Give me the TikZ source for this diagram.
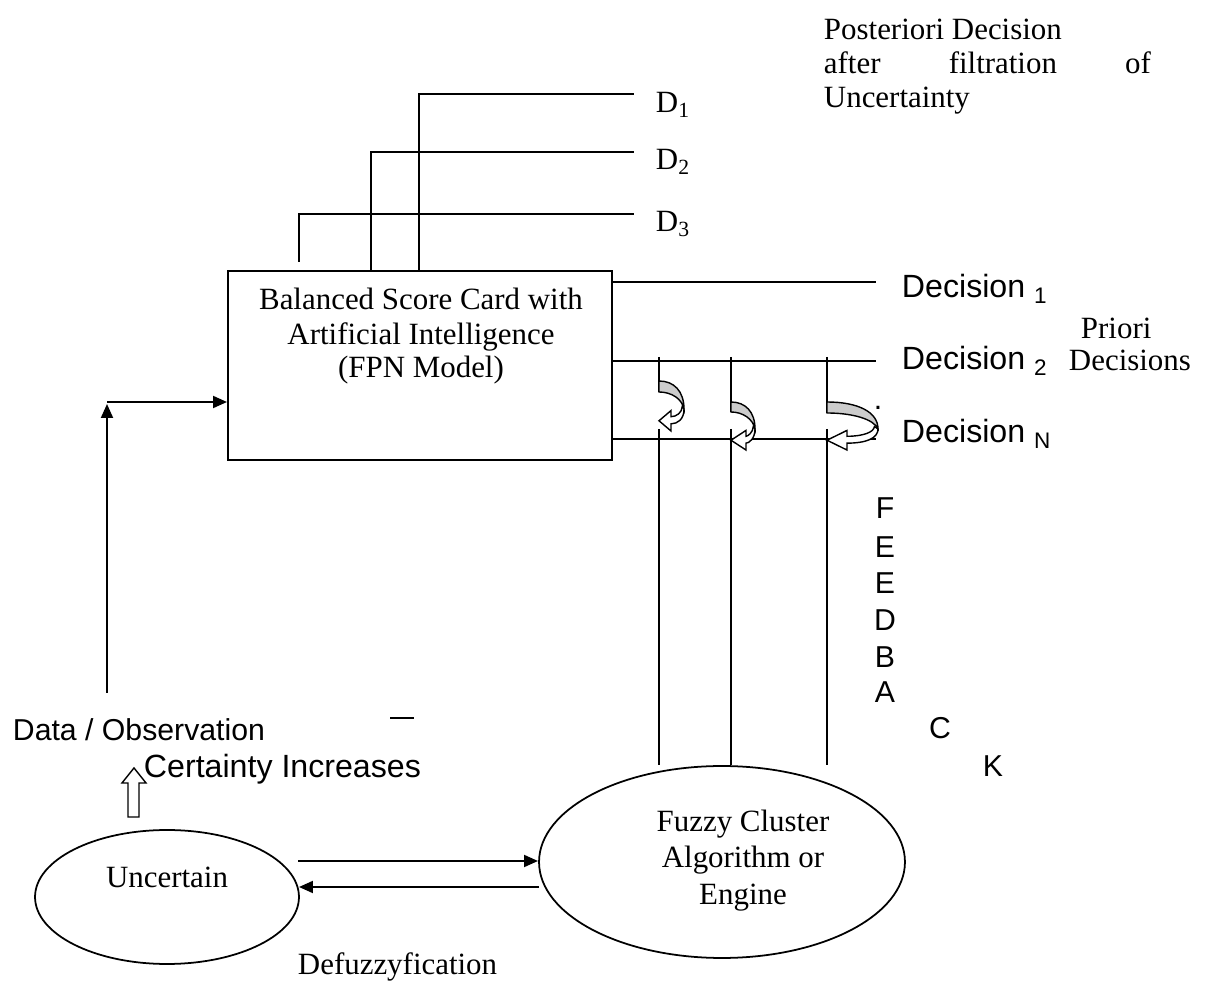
\documentclass[tikz,border=0pt]{standalone}
\usepackage{fontspec}
\setmainfont{Liberation Serif}
\setsansfont{Liberation Sans}
\usetikzlibrary{arrows.meta,shapes.geometric}
\newcommand\curvarr[6]{% x0 y0 w H t L
 \filldraw[fill=gray!40, line width=0.8pt] (#1,#2) .. controls ({#1+0.6*#3},#2) and ({#1+#3},{#2+0.2*#4}) .. ({#1+#3},{#2+0.55*#4}) .. controls ({#1+0.92*#3},{#2+0.35*#4}) and ({#1+0.5*#3},{#2+#5}) .. (#1,{#2+#5}) -- cycle;
 \filldraw[fill=white, line width=0.8pt] ({#1+#3},{#2+0.55*#4}) .. controls ({#1+#3},{#2+0.75*#4}) and ({#1+0.75*#3},{#2+0.84*#4}) .. ({#1+#6},{#2+0.84*#4}) -- ({#1+#6},{#2+0.98*#4}) -- (#1,{#2+0.78*#4}) -- ({#1+#6},{#2+0.58*#4}) -- ({#1+#6},{#2+0.7*#4}) .. controls ({#1+0.7*#3},{#2+0.7*#4}) and ({#1+0.92*#3},{#2+0.62*#4}) .. ({#1+0.93*#3},{#2+0.5*#4}) -- cycle;
}
\begin{document}
\begin{tikzpicture}[x=0.02cm,y=-0.02cm,line width=1.1pt,
  serif/.style={font=\fontsize{17.6}{19.6}\selectfont, inner sep=0pt},
  sans/.style={font=\sffamily\fontsize{17.2}{19}\selectfont, inner sep=0pt},
  bigsans/.style={font=\sffamily\fontsize{18.3}{20}\selectfont, inner sep=0pt},
  tip/.style={-{Triangle[length=0.28cm,width=0.24cm]}},
  ell/.style={draw, ellipse, inner sep=0pt, line width=1pt}]
\useasboundingbox (0,0) rectangle (1208,999);

% main box
\node[draw, minimum width=7.68cm, minimum height=3.78cm, inner sep=0pt] (bsc) at (420,365.5) {};
\node[serif, anchor=base] (t1) at (421,310) {Balanced Score Card with};
\node[serif, anchor=base] (t2) at (421,345) {Artificial Intelligence};
\node[serif, anchor=base] (t3) at (421,378) {(FPN Model)};

% posteriori decisions D1..D3
\coordinate (d1a) at (419,271); \coordinate (d1b) at (419,94); \coordinate (d1c) at (634,94);
\coordinate (d2a) at (371,271); \coordinate (d2b) at (371,152); \coordinate (d2c) at (634,152);
\coordinate (d3a) at (299,262); \coordinate (d3b) at (299,214); \coordinate (d3c) at (634,214);
\draw (d1a) -- (d1b) -- (d1c);
\draw (d2a) -- (d2b) -- (d2c);
\draw (d3a) -- (d3b) -- (d3c);
\node[serif, anchor=base west] (D1) at (655,113) {D\textsubscript{1}};
\node[serif, anchor=base west] (D2) at (655,170) {D\textsubscript{2}};
\node[serif, anchor=base west] (D3) at (655,232) {D\textsubscript{3}};

\node[serif, anchor=base west] (p1) at (823,40) {Posteriori Decision};
\node[serif, anchor=base west] (p2) at (823,74) {\makebox[6.54cm][s]{after filtration of}};
\node[serif, anchor=base west] (p3) at (823,108) {Uncertainty};

% priori decisions
\coordinate (e1a) at (612,282); \coordinate (e1b) at (876,282);
\coordinate (e2a) at (612,361); \coordinate (e2b) at (876,361);
\coordinate (e3a) at (612,439); \coordinate (e3b) at (876,439);
\draw (e1a) -- (e1b);
\draw (e2a) -- (e2b);
\draw (e3a) -- (e3b);
\node[bigsans, anchor=base west] (dec1) at (901,298) {Decision \textsubscript{1}};
\node[bigsans, anchor=base west] (dec2) at (901,370) {Decision \textsubscript{2}};
\node[bigsans, anchor=base west] (decN) at (901,443) {Decision \textsubscript{N}};
\node[serif, anchor=base west] (pr1) at (1080,339) {Priori};
\node[serif, anchor=base west] (pr2) at (1068,371) {Decisions};
\node[sans, anchor=base] (dot) at (878,410) {.};

% fuzzy engine
\node[ell, minimum width=7.32cm, minimum height=3.84cm] (fuz) at (722,862) {};
\node[serif, anchor=base] (f1) at (743,832) {Fuzzy Cluster};
\node[serif, anchor=base] (f2) at (743,868) {Algorithm or};
\node[serif, anchor=base] (f3) at (743,905) {Engine};

% feedback verticals
\coordinate (v1a) at (659,357); \coordinate (v1b) at (659,392); \coordinate (v1c) at (659,429); \coordinate (v1d) at (659,765);
\coordinate (v2a) at (731,357); \coordinate (v2b) at (731,412); \coordinate (v2c) at (731,429); \coordinate (v2d) at (731,765);
\coordinate (v3a) at (827,357); \coordinate (v3b) at (827,413); \coordinate (v3c) at (827,429); \coordinate (v3d) at (827,765);
\draw (v1a) -- (v1b); \draw (v1c) -- (v1d);
\draw (v2a) -- (v2b); \draw (v2c) -- (v2d);
\draw (v3a) -- (v3b); \draw (v3c) -- (v3d);
\curvarr{659}{381}{25}{51}{11}{12}
\curvarr{731}{402}{24}{49}{10}{15}
\curvarr{827}{402}{51}{49}{11}{20}

% FEEDBACK letters
\node[sans] (lF) at (885,508) {F};
\node[sans] (lE1) at (885,547) {E};
\node[sans] (lE2) at (885,583) {E};
\node[sans] (lD) at (885,620) {D};
\node[sans] (lB) at (885,657) {B};
\node[sans] (lA) at (885,692) {A};
\node[sans] (lC) at (940,728) {C};
\node[sans] (lK) at (993,766) {K};

% data / observation input
\coordinate (obs) at (107,693); \coordinate (corner) at (107,402); \coordinate (boxin) at (227,402);
\draw[tip] (obs) -- (107,404);
\draw[tip] (corner) -- (boxin);
\node[sans, anchor=base west] (data) at (12,741) {Data / Observation};
\node[bigsans, anchor=base west] (cert) at (143,778) {Certainty Increases};
\coordinate (dsa) at (390,718); \coordinate (dsb) at (414,718);
\draw[line width=0.9pt] (dsa) -- (dsb);
\draw[line width=0.8pt, fill=white] (128,817) -- (128,783) -- (122,783) -- (134,768) -- (146,783) -- (139,783) -- (139,817) -- cycle;

% uncertain
\node[ell, minimum width=5.28cm, minimum height=2.68cm] (unc) at (167,897) {};
\node[serif, anchor=base] (ut) at (167,888) {Uncertain};
\coordinate (a1s) at (298,861); \coordinate (a1e) at (538,861);
\coordinate (a2s) at (539,887); \coordinate (a2e) at (299,887);
\draw[tip] (a1s) -- (a1e);
\draw[tip] (a2s) -- (a2e);
\node[serif, anchor=base west] (defz) at (297,975) {Defuzzyfication};
\end{tikzpicture}
\end{document}
